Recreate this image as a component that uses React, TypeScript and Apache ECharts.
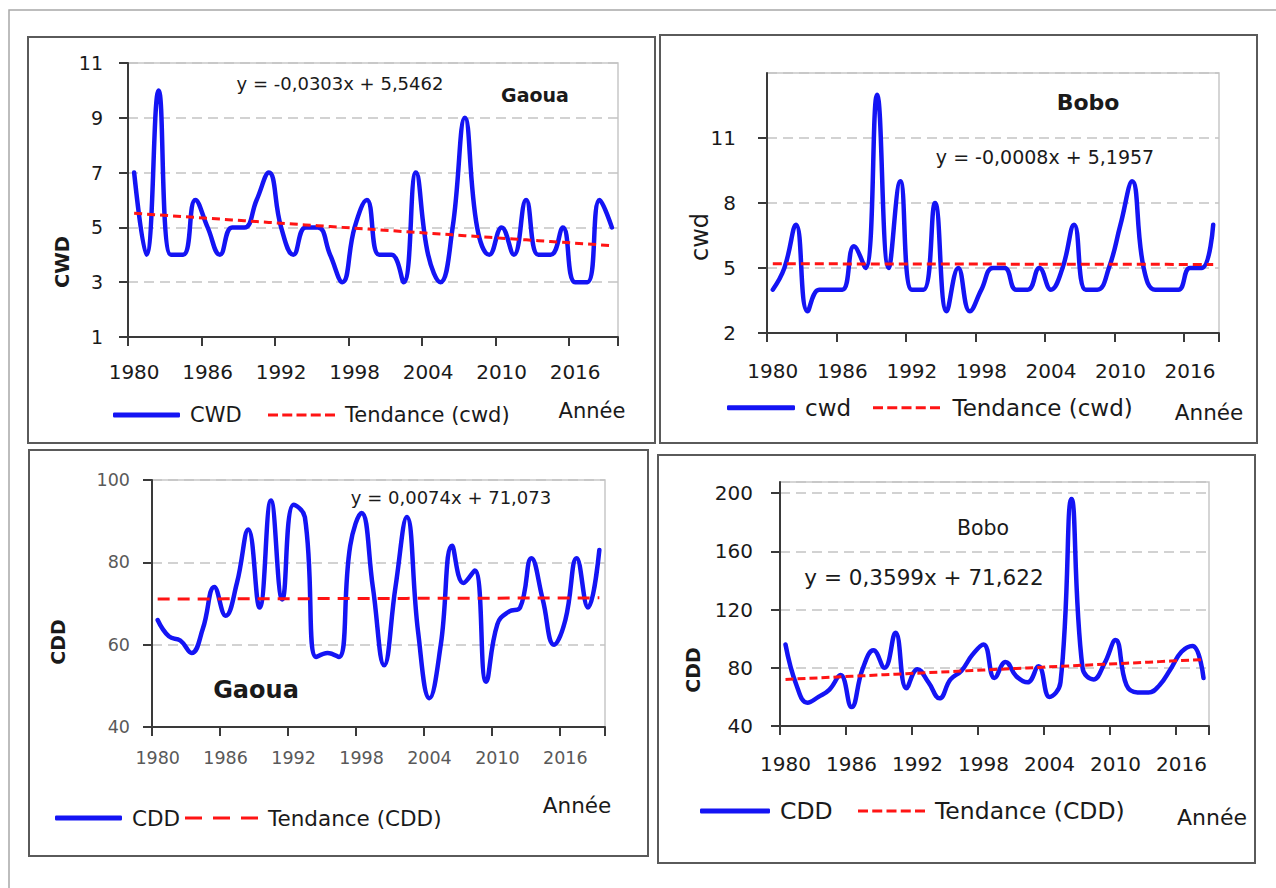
import React, { useEffect, useRef } from "react";
import * as echarts from "echarts";

// ---------- DATA ----------
const years40: string[] = [];
for (let y = 1980; y <= 2019; y++) years40.push(String(y));
const years39: string[] = years40.slice(0, 39);

// CWD Gaoua 1980-2019
const cwdGaoua = [7, 4, 10, 4, 4, 6, 5, 4, 5, 5, 6, 7, 5, 4, 5, 5, 4, 3, 5, 6, 4, 4, 3, 7, 4, 3, 5, 9, 5, 4, 5, 4, 6, 4, 4, 5, 3, 3, 6, 5];
// cwd Bobo 1980-2018
const cwdBobo = [4, 5, 7, 3, 4, 4, 4, 6, 5, 13, 5, 9, 4, 4, 8, 3, 5, 3, 4, 5, 5, 4, 4, 5, 4, 5, 7, 4, 4, 5, 7, 9, 5, 4, 4, 4, 5, 5, 7];
// CDD Gaoua 1980-2019
const cddGaoua = [66, 62, 61, 58, 64, 74, 67, 75, 88, 69, 95, 71, 94, 91, 57, 58, 57, 84, 92, 74, 55, 74, 91, 63, 47, 60, 84, 75, 78, 51, 65, 68, 69, 81, 71, 60, 66, 81, 69, 83];
// CDD Bobo 1980-2018
const cddBobo = [96, 68, 56, 60, 65, 75, 53, 79, 92, 80, 104, 66, 79, 70, 59, 72, 78, 89, 96, 73, 84, 74, 70, 81, 60, 70, 196, 80, 72, 83, 99, 68, 63, 63, 68, 79, 91, 95, 73];

// Trend equations (slope, intercept) as printed on the charts, x = 1..n
const coefCwdGaoua = [-0.0303, 5.5462];
const coefCwdBobo = [-0.0008, 5.1957];
const coefCddGaoua = [0.0074, 71.073];
const coefCddBobo = [0.3599, 71.622];

const eqCwdGaoua = "y = -0,0303x + 5,5462";
const eqCwdBobo = "y = -0,0008x + 5,1957";
const eqCddGaoua = "y = 0,0074x + 71,073";
const eqCddBobo = "y = 0,3599x + 71,622";

// ---------- STYLE ----------
const FONT = '"DejaVu Sans", "Open Sans", sans-serif';
const BLUE = "#1414f4";
const RED = "#ff1414";
const AXIS = "#3a3a3a";
const GRIDC = "#c4c4c4";

function trendOf(values: number[], coef: number[]) {
  return values.map((_, i) => +(coef[0] * (i + 1) + coef[1]).toFixed(4));
}

const DASH5 = "path://M0,0h10v3h-10zM14.25,0h10v3h-10zM28.5,0h10v3h-10zM42.75,0h10v3h-10zM57,0h10v3h-10z";
const DASH3 = "path://M0,0h17v3h-17zM28,0h17v3h-17zM56,0h17v3h-17z";

type Panel = {
  grid: { left: number; top: number; width: number; height: number };
  cats: string[];
  values: number[];
  coef: number[];
  yMin: number;
  yMax: number;
  yInt: number;
  showMax: boolean;
  labelColor: string;
  ySize: number;
  xSize: number;
  yMargin: number;
  xMargin: number;
  mainName: string;
  trendName: string;
  dash: number[];
  legend: { blueLeft: number; blueW: number; redLeft: number; redW: number; y: number; size: number; redIcon: string };
};

const panels: Panel[] = [
  {
    grid: { left: 128, top: 63, width: 490, height: 274 },
    cats: years40, values: cwdGaoua, coef: coefCwdGaoua,
    yMin: 1, yMax: 11, yInt: 2, showMax: true,
    labelColor: "#1a1a1a", ySize: 19, xSize: 20, yMargin: 25, xMargin: 25,
    mainName: "CWD|1", trendName: "Tendance (cwd)|1", dash: [8, 5],
    legend: { blueLeft: 113, blueW: 67, redLeft: 268, redW: 67, y: 417, size: 21, redIcon: DASH5 },
  },
  {
    grid: { left: 767, top: 73, width: 452, height: 260 },
    cats: years39, values: cwdBobo, coef: coefCwdBobo,
    yMin: 2, yMax: 14, yInt: 3, showMax: false,
    labelColor: "#1a1a1a", ySize: 20, xSize: 20, yMargin: 31, xMargin: 28,
    mainName: "cwd|2", trendName: "Tendance (cwd)|2", dash: [9, 5],
    legend: { blueLeft: 727, blueW: 68, redLeft: 873, redW: 72, y: 410, size: 23, redIcon: DASH5 },
  },
  {
    grid: { left: 152, top: 480, width: 453, height: 247 },
    cats: years40, values: cddGaoua, coef: coefCddGaoua,
    yMin: 40, yMax: 100, yInt: 20, showMax: true,
    labelColor: "#595959", ySize: 17.5, xSize: 17.5, yMargin: 22, xMargin: 22,
    mainName: "CDD|3", trendName: "Tendance (CDD)|3", dash: [12, 8],
    legend: { blueLeft: 55, blueW: 67, redLeft: 185, redW: 73, y: 820, size: 21.5, redIcon: DASH3 },
  },
  {
    grid: { left: 780, top: 482, width: 429, height: 244 },
    cats: years39, values: cddBobo, coef: coefCddBobo,
    yMin: 40, yMax: 207.6, yInt: 40, showMax: false,
    labelColor: "#1a1a1a", ySize: 20, xSize: 20, yMargin: 27, xMargin: 28,
    mainName: "CDD|4", trendName: "Tendance (CDD)|4", dash: [8, 4],
    legend: { blueLeft: 700, blueW: 70, redLeft: 858, redW: 67, y: 813, size: 23.5, redIcon: DASH5 },
  },
];

function txt(text: string, x: number, y: number, size: number, weight: any = "normal", rotate = false, fill = "#1a1a1a") {
  return {
    type: "text",
    x, y,
    rotation: rotate ? Math.PI / 2 : 0,
    z: 10,
    style: {
      text, fill, fontSize: size, fontFamily: FONT, fontWeight: weight,
      align: "center", verticalAlign: "middle", textAlign: "center", textVerticalAlign: "middle",
    },
  };
}

function buildOption() {
  const grids: any[] = [];
  const xAxes: any[] = [];
  const yAxes: any[] = [];
  const series: any[] = [];
  const legends: any[] = [];

  panels.forEach((p, i) => {
    grids.push({ ...p.grid, show: true, borderColor: "#c8c8c8", borderWidth: 1.5, backgroundColor: "transparent" });
    xAxes.push({
      gridIndex: i, type: "category", data: p.cats, boundaryGap: true,
      axisLine: { show: true, lineStyle: { color: AXIS, width: 2 } },
      axisTick: { show: true, interval: 5, length: 9, alignWithLabel: false, lineStyle: { color: AXIS, width: 2 } },
      axisLabel: { interval: 5, fontSize: p.xSize, fontFamily: FONT, color: p.labelColor, margin: p.xMargin },
      splitLine: { show: false },
    });
    yAxes.push({
      gridIndex: i, type: "value", min: p.yMin, max: p.yMax, interval: p.yInt,
      axisLine: { show: true, lineStyle: { color: AXIS, width: 2 } },
      axisTick: { show: true, length: 9, lineStyle: { color: AXIS, width: 2 } },
      axisLabel: { fontSize: p.ySize, fontFamily: FONT, color: p.labelColor, margin: p.yMargin, showMaxLabel: p.showMax },
      splitLine: { show: true, lineStyle: { color: GRIDC, width: 1.5, type: [10, 6] } },
    });
    series.push({
      type: "line", name: p.mainName, xAxisIndex: i, yAxisIndex: i, data: p.values,
      smooth: 0.45, symbol: "none", z: 3,
      lineStyle: { color: BLUE, width: 4.5, cap: "round", join: "round" },
      itemStyle: { color: BLUE },
    });
    series.push({
      type: "line", name: p.trendName, xAxisIndex: i, yAxisIndex: i, data: trendOf(p.values, p.coef),
      symbol: "none", z: 4,
      lineStyle: { color: RED, width: 3, type: p.dash },
      itemStyle: { color: RED },
    });
    const lg = p.legend;
    const common = {
      orient: "horizontal", padding: 0, selectedMode: false,
      formatter: (n: string) => n.split("|")[0],
      textStyle: { fontSize: lg.size, fontFamily: FONT, color: "#1a1a1a", padding: [0, 0, 0, 5] },
    };
    legends.push({ ...common, data: [p.mainName], left: lg.blueLeft, top: lg.y - lg.size * 0.6, itemWidth: lg.blueW, itemHeight: 5, icon: "roundRect" });
    legends.push({ ...common, data: [p.trendName], left: lg.redLeft, top: lg.y - lg.size * 0.6, itemWidth: lg.redW, itemHeight: 3, icon: lg.redIcon });
  });

  const box = (x: number, y: number, w: number, h: number) => ({
    type: "rect", z: 1, shape: { x, y, width: w, height: h },
    style: { fill: "none", stroke: "#5a5a5a", lineWidth: 2 },
  });

  const graphic: any[] = [
    { type: "polyline", z: 1, shape: { points: [[9, 888], [9, 10], [1276, 10]] }, style: { fill: "none", stroke: "#a8a8a8", lineWidth: 1.5 } },
    box(28, 37, 627, 406),
    box(660, 35, 597, 408),
    box(29, 450, 619, 406),
    box(658, 455, 597, 408),
    // Panel 1
    txt(eqCwdGaoua, 340, 83, 18),
    txt("Gaoua", 535, 95, 19, "bold"),
    txt("CWD", 62, 262, 19.5, "bold", true),
    txt("Année", 592, 411, 21),
    // Panel 2
    txt("Bobo", 1088, 102, 22, "bold"),
    txt(eqCwdBobo, 1045, 157, 19),
    txt("cwd", 700, 237, 24, "normal", true),
    txt("Année", 1209, 412, 21.5),
    // Panel 3
    txt("CDD", 58, 642, 19, "bold", true),
    txt(eqCddGaoua, 451, 497, 18),
    txt("Gaoua", 256, 690, 24, "bold"),
    txt("Année", 577, 805, 21.5),
    // Panel 4
    txt("CDD", 693, 670, 19, "bold", true),
    txt("Bobo", 983, 528, 20.5),
    txt(eqCddBobo, 924, 577, 21.5),
    txt("Année", 1212, 817, 22),
  ];

  return {
    animation: false,
    backgroundColor: "#ffffff",
    grid: grids,
    xAxis: xAxes,
    yAxis: yAxes,
    series,
    legend: legends,
    graphic: { elements: graphic },
  };
}

export default function App() {
  const ref = useRef<HTMLDivElement>(null);
  useEffect(() => {
    if (!ref.current) return;
    const chart = echarts.init(ref.current, null, { renderer: "svg" });
    chart.setOption(buildOption() as any);
    return () => chart.dispose();
  }, []);
  return (
    <div
      ref={ref}
      style={{ position: "absolute", left: 0, top: 0, width: 1276, height: 888, background: "#fff" }}
    />
  );
}
